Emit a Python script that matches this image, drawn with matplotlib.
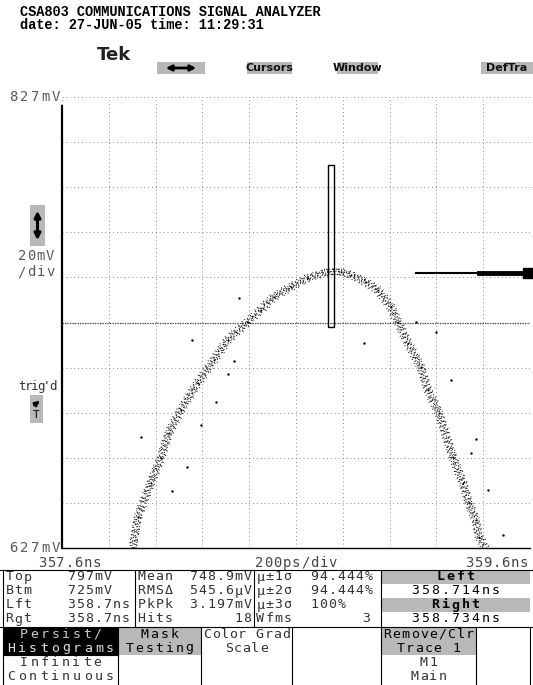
import matplotlib as mpl
import matplotlib.pyplot as plt
import numpy as np
from matplotlib.patches import Rectangle, FancyArrowPatch

mpl.rcParams['font.family'] = ['DejaVu Sans Mono', 'DejaVu Sans']

# trace (ns, mV) - centre of the persistence band
trace_ns = [357.903, 357.925, 357.980, 358.023, 358.057, 358.109, 358.181, 358.250,
            358.309, 358.395, 358.450, 358.506, 358.579, 358.651, 358.737, 358.792,
            358.835, 358.899, 358.950, 359.006, 359.036, 359.079, 359.134, 359.164,
            359.211, 359.271, 359.314, 359.339, 359.369, 359.382, 359.412]
trace_mv = [627.0, 640.7, 655.8, 666.9, 678.0, 688.2, 700.2, 710.4,
            719.2, 727.2, 732.5, 738.3, 742.7, 746.7, 749.4, 749.4,
            748.1, 744.9, 741.4, 733.9, 727.2, 717.9, 707.3, 697.1,
            686.9, 667.3, 655.8, 646.9, 639.4, 631.9, 627.0]
# stray hits
stray_ns = [358.356, 358.156, 358.309, 358.335, 357.938, 358.194, 358.258, 358.134,
            358.070, 358.891, 359.198, 359.262, 359.113, 359.369, 359.421, 359.485, 359.348]
stray_mv = [737.9, 719.2, 704.2, 709.9, 676.2, 681.5, 691.7, 662.9,
            652.3, 717.9, 722.8, 701.5, 727.2, 675.3, 652.7, 632.7, 669.1]

# cursor window
box_left, box_right = 358.738, 358.761
box_top, box_btm = 797, 725
marker_mv = 749

stats = [["Top", "797mV", "Mean", "748.9mV", "\u03bc\u00b11\u03c3", "94.444%"],
         ["Btm", "725mV", "RMS\u0394", "545.6\u03bcV", "\u03bc\u00b12\u03c3", "94.444%"],
         ["Lft", "358.7ns", "PkPk", "3.197mV", "\u03bc\u00b13\u03c3", "100%"],
         ["Rgt", "358.7ns", "Hits", "18", "Wfms", "3"]]
cursor_labels = ["Left", "358.714ns", "Right", "358.734ns"]

W, H = 533, 685
fig = plt.figure(figsize=(W / 100, H / 100), dpi=100)
fig.patch.set_facecolor('white')


def fx(x):
    return x / W


def fy(y):
    return 1 - y / H


def ftext(x, y, s, **kw):
    kw.setdefault('va', 'center')
    kw.setdefault('fontsize', 9.5)
    kw.setdefault('color', '#333333')
    fig.text(fx(x), fy(y), s, **kw)


def stext(x, y, s, pitch=9.0, ha='left', **kw):
    # scope font: fixed, wide character pitch
    if ha == 'right':
        x = x - pitch * len(s)
    elif ha == 'center':
        x = x - pitch * len(s) / 2
    for i, ch in enumerate(s):
        if ch != ' ':
            ftext(x + pitch * (i + 0.5), y, ch, ha='center', **kw)


def fbox(x0, y0, x1, y1, fc='#b8b8b8', ec='none', lw=0.8):
    fig.patches.append(Rectangle((fx(x0), fy(y1)), fx(x1) - fx(x0), fy(y0) - fy(y1),
                                 transform=fig.transFigure, fc=fc, ec=ec, lw=lw))


def fline(xs, ys, **kw):
    kw.setdefault('color', 'black')
    kw.setdefault('lw', 0.8)
    fig.lines.append(plt.Line2D([fx(a) for a in xs], [fy(a) for a in ys],
                                transform=fig.transFigure, **kw))


# header
ftext(20, 12, "CSA803 COMMUNICATIONS SIGNAL ANALYZER", family='Liberation Mono',
      fontsize=9.8, color='black', weight='bold')
ftext(20, 25, "date: 27-JUN-05 time: 11:29:31", family='Liberation Mono',
      fontsize=9.8, color='black', weight='bold')
ftext(97, 55, "Tek", family='DejaVu Sans', fontsize=13, weight='bold', color='#222222')

# top buttons
fbox(157, 62, 205, 74)
fig.patches.append(FancyArrowPatch((fx(163), fy(68)), (fx(199), fy(68)), transform=fig.transFigure,
                                   arrowstyle='<|-|>', mutation_scale=8, lw=2, color='black'))
for x0, x1, s in [(247, 292, "Cursors"), (337, 378, "Window"), (481, 533, "DefTra")]:
    fbox(x0, 62, x1, 74)
    ftext((x0 + x1) / 2, 68, s, ha='center', family=['Liberation Sans Narrow', 'DejaVu Sans'],
          fontsize=8, weight='bold', color='#111111')

# plot area
ax = fig.add_axes([fx(62), fy(548), fx(530) - fx(62), fy(97) - fy(548)])
ax.set_xlim(357.6, 359.6)
ax.set_ylim(627, 827)
ax.set_xticks(np.arange(357.6, 359.61, 0.2))
ax.set_yticks(np.arange(627, 828, 20))
ax.grid(True, color='#8a8a8a', lw=0.7, ls=(0, (1, 3)))
ax.tick_params(length=0, labelbottom=False, labelleft=False)
ax.axhline(727, color='#444444', lw=0.9, ls=(0, (1, 1)))
for s in ['top', 'right']:
    ax.spines[s].set_visible(False)
ax.spines['left'].set_linewidth(1.6)
ax.spines['left'].set_bounds(627, 823)
ax.spines['bottom'].set_linewidth(1.0)

# persistence band: several dotted passes with uneven dot spacing
t = np.array(trace_ns)
v = np.array(trace_mv)
gaps = [3.1, 4.6, 3.6, 5.2, 3.3, 4.9]
k = 0
for dt in (-0.014, -0.005, 0.004, 0.013):
    for dv in (-1.1, 0.2, 1.2):
        g = gaps[k % len(gaps)]
        ax.plot(t + dt, v + dv, color='black', lw=0.9,
                ls=(k * 1.3, (0.6, g, 0.6, g * 0.6)), zorder=3)
        k += 1
ax.scatter(t, v, s=2, color='black', lw=0, zorder=3)
ax.scatter(stray_ns, stray_mv, s=3, color='black', lw=0, zorder=3)

ax.add_patch(Rectangle((box_left, box_btm), box_right - box_left, box_top - box_btm,
                       fc='none', ec='black', lw=1.0, zorder=4))
ax.plot([359.113, 359.38], [marker_mv, marker_mv], color='black', lw=1.5, zorder=4, clip_on=False)
ax.plot([359.38, 359.575], [marker_mv, marker_mv], color='black', lw=3.5, zorder=4, clip_on=False)
ax.plot([359.59], [marker_mv], marker='s', ms=7, color='black', zorder=4, clip_on=False)

# left labels
grey = '#5a5a5a'
stext(61, 97, "827mV", ha='right', pitch=10.5, fontsize=10, color=grey)
stext(61, 548, "627mV", ha='right', pitch=10.5, fontsize=10, color=grey)
fbox(30, 205, 45, 246)
fig.patches.append(FancyArrowPatch((fx(37.5), fy(208)), (fx(37.5), fy(243)), transform=fig.transFigure,
                                   arrowstyle='<|-|>', mutation_scale=9, lw=2.2, color='black'))
stext(17, 256, "20mV", pitch=9.5, fontsize=10, color=grey)
stext(17, 272, "/div", pitch=9.5, fontsize=10, color=grey)
stext(19, 387, "trig'd", pitch=6.2, fontsize=9, color='#333333')
fbox(30, 395, 43, 423)
fig.patches.append(FancyArrowPatch((fx(32), fy(407)), (fx(42), fy(399)), transform=fig.transFigure,
                                   arrowstyle='-|>', mutation_scale=7, lw=1.6, color='black'))
ftext(36.5, 415, "T", ha='center', fontsize=8, color='black')

# time axis labels
stext(38, 563, "357.6ns", pitch=9.0, fontsize=10, color='#444444')
stext(296, 563, "200ps/div", ha='center', pitch=9.2, fontsize=10, color='#444444')
stext(528, 563, "359.6ns", ha='right', pitch=9.0, fontsize=10, color='#444444')

# readout table
c = [3, 135, 254, 381, 530]
rows = [577, 591, 605, 619]
fline([0, 533], [570, 570])
for r, row in zip(rows, stats):
    stext(c[0] + 2, r, row[0])
    stext(c[0] + 64, r, row[1])
    stext(c[1] + 2, r, row[2])
    stext(c[2] - 2, r, row[3], ha='right')
    stext(c[2] + 2, r, row[4])
    if row[4] == "Wfms":
        stext(c[3] - 10, r, row[5], ha='right')
    else:
        stext(c[2] + 56, r, row[5])
for x in c[:-1]:
    fline([x, x], [570, 627])
fbox(c[3], 570, c[4], 584)
fbox(c[3], 598, c[4], 612)
for r, s in zip(rows, cursor_labels):
    stext((c[3] + c[4]) / 2, r, s, ha='center', pitch=10, color='black',
          weight='bold' if s in ("Left", "Right") else 'normal')

# soft keys
b = [3, 118, 201, 292, 381, 476, 530]
brow = [634, 648, 662, 676]
fline([0, 533], [627, 627])
fbox(b[0], 627, b[1], 655, fc='black')
fbox(b[1], 627, b[2], 655)
fbox(b[4], 627, b[5], 655)
for x in b:
    fline([x, x], [627, 685])
fline([b[0], b[1]], [655, 655])
mid = [(b[i] + b[i + 1]) / 2 for i in range(len(b) - 1)]
stext(mid[0], brow[0], "Persist/", ha='center', pitch=10.5, color='#cccccc')
stext(mid[0], brow[1], "Histograms", ha='center', pitch=11, color='#dddddd')
stext(mid[0], brow[2], "Infinite", ha='center', pitch=10.5)
stext(mid[0], brow[3], "Continuous", ha='center', pitch=11)
stext(mid[1], brow[0], "Mask", ha='center', pitch=10, color='black')
stext(mid[1], brow[1], "Testing", ha='center', pitch=10, color='black')
stext(mid[2], brow[0], "Color Grad", ha='center', pitch=8.8)
stext(mid[2], brow[1], "Scale", ha='center', pitch=8.8)
stext(mid[4], brow[0], "Remove/Clr", ha='center', pitch=9.2, color='black')
stext(mid[4], brow[1], "Trace 1", ha='center', pitch=9.2, color='black')
stext(mid[4], brow[2], "M1", ha='center', pitch=9.2)
stext(mid[4], brow[3], "Main", ha='center', pitch=9.2)

fig.savefig('out.png', dpi=100)
